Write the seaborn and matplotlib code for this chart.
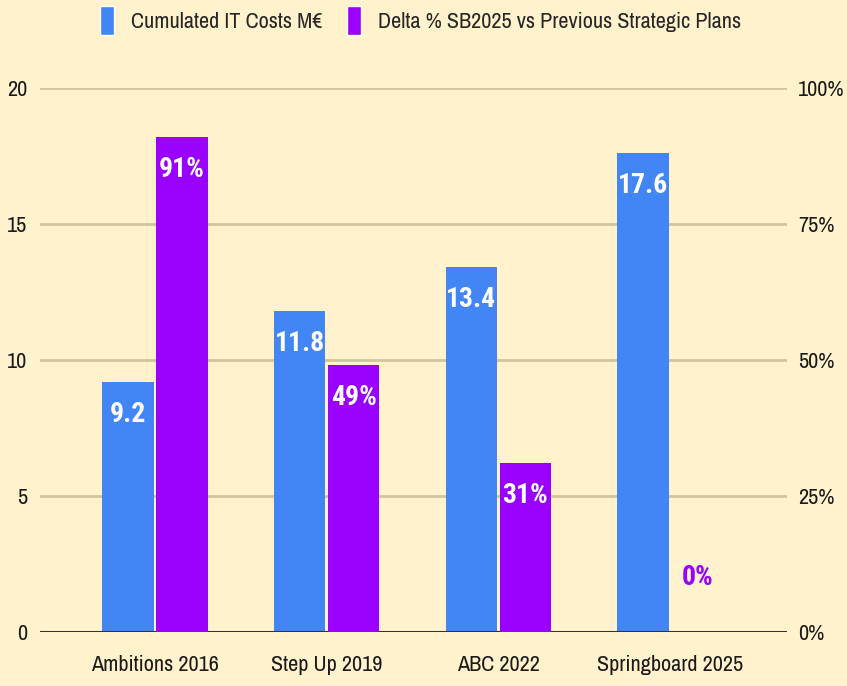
import matplotlib
matplotlib.use("Agg")
import matplotlib.pyplot as plt
from matplotlib import font_manager
from matplotlib.patches import Patch
from matplotlib.ticker import FuncFormatter
import pandas as pd
import seaborn as sns

# ── data ─────────────────────────────────────────────────────────────────────
plans      = ["Ambitions 2016", "Step Up 2019", "ABC 2022", "Springboard 2025"]
it_costs   = [9.2, 11.8, 13.4, 17.6]          # M€
delta_pct  = [0.91, 0.49, 0.31, 0.0]          # share vs SB2025
series     = ["Cumulated IT Costs M€", "Delta % SB2025 vs Previous Strategic Plans"]

BG     = "#FFF2CC"
BLUE   = "#4285F4"
PURPLE = "#9900FF"
GRID   = "#D2C39F"

names = {f.name for f in font_manager.fontManager.ttflist}


def pick(*cands):
    for c in cands:
        if c in names:
            return c
    return "DejaVu Sans"


axis_font  = pick("Liberation Sans Narrow", "Arial Narrow", "Archivo Narrow",
                  "PT Sans Narrow", "Roboto Condensed", "Open Sans Condensed")
label_font = pick("Roboto Condensed", "Fira Sans Condensed", "Archivo Narrow",
                  "PT Sans Narrow", "Liberation Sans Narrow")

sns.set_style("white")
plt.rcParams["font.family"] = [axis_font, "DejaVu Sans"]

cost_df  = pd.DataFrame({"plan": plans, "value": it_costs, "series": series[0]})
delta_df = pd.DataFrame({"plan": plans, "value": delta_pct, "series": series[1]})

fig = plt.figure(figsize=(8.47, 6.86), dpi=100, facecolor=BG)
ax = fig.add_axes([0.047, 0.079, 0.882, 0.793])
ax.set_facecolor(BG)
ax2 = ax.twinx()

palette = {series[0]: BLUE, series[1]: PURPLE}
common = dict(x="plan", y="value", hue="series", hue_order=series, order=plans,
              palette=palette, width=0.63, gap=0.05, dodge=True, legend=False,
              saturation=1, linewidth=0)
sns.barplot(data=cost_df, ax=ax, **common)
sns.barplot(data=delta_df, ax=ax2, **common)

ax.set_ylim(0, 20)
ax2.set_ylim(0, 1)
ax.set_xlim(-0.67, 3.68)
ax.set_yticks([0, 5, 10, 15, 20])
ax2.set_yticks([0, 0.25, 0.5, 0.75, 1.0])
ax2.yaxis.set_major_formatter(FuncFormatter(lambda v, _: f"{v:.0%}"))

ax.grid(axis="y", color=GRID, linewidth=2)
ax.set_axisbelow(True)
ax.axhline(0, color="#333333", linewidth=2.2, zorder=5)
for a in (ax, ax2):
    for s in a.spines.values():
        s.set_visible(False)
    a.set_xlabel("")
    a.set_ylabel("")
    a.tick_params(length=0, labelsize=16, colors="#1a1a1a")
ax.tick_params(axis="x", pad=17)
ax.tick_params(axis="y", pad=9)
ax2.tick_params(axis="y", pad=8)

# value labels
lab = dict(ha="center", va="center", fontsize=20, fontweight="bold", family=[label_font, "DejaVu Sans"])
for bar, v in zip(ax.patches, it_costs):
    ax.text(bar.get_x() + bar.get_width() / 2, v - 1.2, f"{v:.1f}", color="white", **lab)
for bar, v in zip(ax2.patches, delta_pct):
    x = bar.get_x() + bar.get_width() / 2
    if v > 0:
        ax2.text(x, v - 0.06, f"{v:.0%}", color="white", **lab)
    else:
        ax2.text(x, v + 0.1, f"{v:.0%}", color=PURPLE, **lab)

handles = [Patch(facecolor=BLUE, label=series[0]), Patch(facecolor=PURPLE, label=series[1])]
fig.legend(handles=handles, loc="upper center", bbox_to_anchor=(0.497, 1.02), ncol=2,
           frameon=False, fontsize=16, handlelength=0.6, handleheight=1.6,
           handletextpad=0.8, columnspacing=1.1)

fig.savefig("out.png", dpi=100, facecolor=BG)
